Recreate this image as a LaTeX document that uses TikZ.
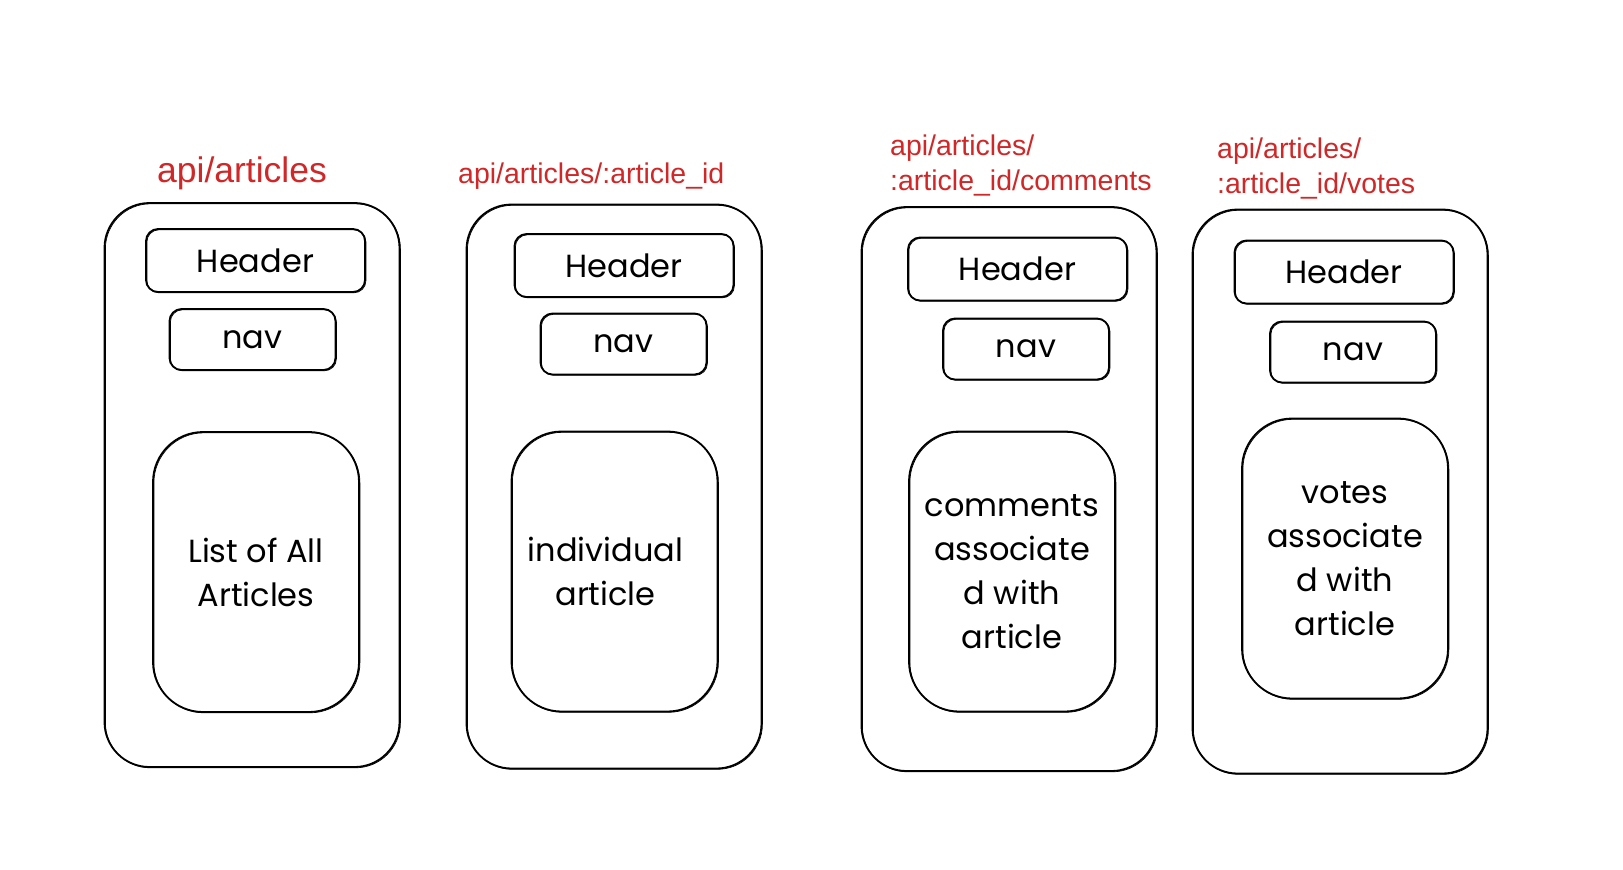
\documentclass[tikz,border=0pt]{standalone}
\usepackage{fontspec}
\newfontfamily\hand{Poppins}
\newfontfamily\arial{Liberation Sans}
\definecolor{lblred}{RGB}{208,40,40}
\tikzset{
 sk/.style={draw=black, line width=1.8pt, inner sep=0pt, font=\hand\fontsize{32}{44}\selectfont, align=center,
   preaction={draw, line width=0.7pt, transform canvas={shift={(0.9pt,-0.8pt)}}}},
 outerbox/.style={sk, rounded corners=45pt, minimum width=295pt, minimum height=564pt},
 hdr/.style={sk, rounded corners=12pt, minimum width=219pt, minimum height=63pt},
 navbox/.style={sk, rounded corners=12pt, minimum width=166pt, minimum height=61pt},
 content/.style={sk, rounded corners=50pt, minimum width=206pt, minimum height=280pt},
 route/.style={text=lblred, font=\arial\fontsize{28.5}{35}\selectfont, inner sep=0pt, align=left}
}
\begin{document}
\begin{tikzpicture}[x=1pt,y=-1pt]
\useasboundingbox[fill=white] (0,0) rectangle (1623,870);
% column 1
\node[outerbox] (o1) at (252,485) {};
\node[hdr] (h1) at (255.5,260.5) {Header};
\node[navbox] (n1) at (252.5,339.5) {\raisebox{-3pt}{nav}};
\node[content] (c1) at (256,572) {List of All\\Articles};
\node[route, font=\arial\fontsize{35.5}{40}\selectfont] (l1) at (242,173) {api/articles};
% column 2
\node[outerbox] (o2) at (614,486.5) {};
\node[hdr] (h2) at (624,265.5) {Header};
\node[navbox] (n2) at (623.5,344) {\raisebox{-3pt}{nav}};
\node[content, text width=206pt] (c2) at (614.5,571.5) {\hspace*{-18pt}individual\\\hspace*{-18pt}article};
\node[route, anchor=west] (l2) at (458,176) {api/articles/:article\_id};
% column 3
\node[outerbox] (o3) at (1009,489) {};
\node[hdr] (h3) at (1017.5,269) {Header};
\node[navbox] (n3) at (1026,349) {\raisebox{-3pt}{nav}};
\node[content] (c3) at (1012,571.5) {comments\\associate\\d with\\article};
\node[route, anchor=west] (l3) at (890,165.5) {api/articles/\\:article\_id/comments};
% column 4
\node[outerbox] (o4) at (1340,491.5) {};
\node[hdr] (h4) at (1344,272) {Header};
\node[navbox] (n4) at (1353,352) {\raisebox{-3pt}{nav}};
\node[content] (c4) at (1345,558.5) {votes\\associate\\d with\\article};
\node[route, anchor=west] (l4) at (1217,168.5) {api/articles/\\:article\_id/votes};
\end{tikzpicture}
\end{document}
